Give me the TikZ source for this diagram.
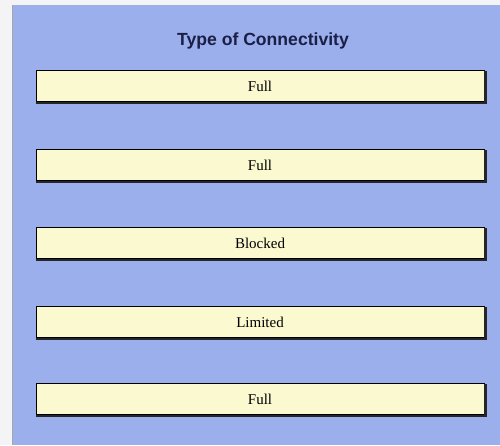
\documentclass[tikz,border=0pt]{standalone}
\usepackage{fontspec}
\setmainfont{Liberation Serif}
\newfontfamily\titlefont{Liberation Sans}
\definecolor{bgblue}{HTML}{9AAFEC}
\definecolor{boxyellow}{HTML}{FBF9CF}
\definecolor{titlenavy}{HTML}{1C1F45}
\definecolor{sidegray}{HTML}{F4F4F6}
\tikzset{
  barbox/.style={draw=black, line width=0.8pt, fill=boxyellow, minimum width=448pt, minimum height=31pt, inner sep=0pt, font=\fontsize{15}{17}\selectfont},
  shadowline/.style={draw=black!85, line width=2.4pt, line cap=rect},
}
\begin{document}
\begin{tikzpicture}[x=1pt,y=-1pt]
\useasboundingbox (0,0) rectangle (500,445);
\fill[sidegray] (0,0) rectangle (500,445);
\fill[bgblue] (12,5) rectangle (500,445);
\draw[gray!70, line width=0.8pt] (12.4,5) -- (12.4,445);
\node[font=\titlefont\bfseries\fontsize{17.6}{20}\selectfont, text=titlenavy] (title) at (263,41) {Type of Connectivity};
\foreach \nm/\y/\t in {b1/86/Full, b2/165/Full, b3/243/Blocked, b4/322/Limited, b5/399/Full}{
  \node[barbox] (\nm) at (260,\y) {\t};
  \draw[shadowline] ([xshift=2pt,yshift=-1pt]\nm.south west) -- ([xshift=1.2pt,yshift=-1pt]\nm.south east) -- ([xshift=1.2pt,yshift=-2pt]\nm.north east);
}
\end{tikzpicture}
\end{document}
